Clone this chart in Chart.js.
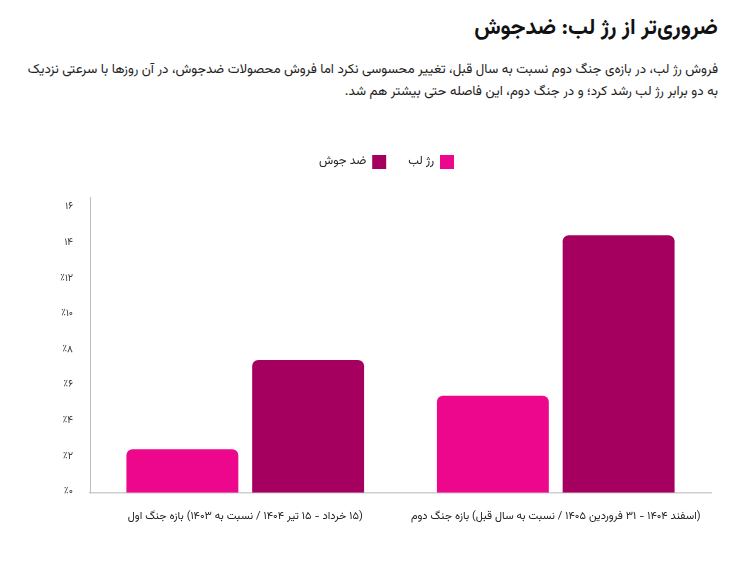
<!DOCTYPE html>
<html lang="fa">
<head>
<meta charset="utf-8">
<script src="https://cdn.jsdelivr.net/npm/chart.js@4.4.1/dist/chart.umd.min.js"></script>
<style>
  html, body { margin: 0; padding: 0; background: #fff; }
  body { width: 741px; height: 567px; position: relative; overflow: hidden;
         font-family: "Vazirmatn", "Noto Sans Arabic", "DejaVu Sans", sans-serif; }
  #title { position: absolute; right: 23px; top: 11px; direction: rtl; text-align: right;
           font-size: 22px; font-weight: bold; color: #111; white-space: nowrap; }
  #sub { position: absolute; right: 23px; left: 10px; top: 59px; direction: rtl; text-align: right;
         font-size: 13.3px; line-height: 22px; color: #222; white-space: nowrap; }
  #wrap { position: absolute; left: 0; top: 133px; width: 741px; height: 410px; direction: rtl; }
</style>
</head>
<body>
<div id="title">ضروری‌تر از رژ لب: ضدجوش</div>
<div id="sub">فروش رژ لب، در بازه‌ی جنگ دوم نسبت به سال قبل، تغییر محسوسی نکرد اما فروش محصولات ضدجوش، در آن روزها با سرعتی نزدیک<br>به دو برابر رژ لب رشد کرد؛ و در جنگ دوم، این فاصله حتی بیشتر هم شد.</div>
<div id="wrap"><canvas id="c"></canvas></div>
<script>
const categories = [
  "(۱۵ خرداد - ۱۵ تیر ۱۴۰۴ / نسبت به ۱۴۰۳) بازه جنگ اول",
  "(اسفند ۱۴۰۴ - ۳۱ فروردین ۱۴۰۵ / نسبت به سال قبل) بازه جنگ دوم"
];
const seriesNames = ["رژ لب", "ضد جوش"];
const lipstick = [2.44, 5.44];
const antiAcne = [7.45, 14.46];
const tickValues = [0, 2, 4, 6, 8, 10, 12, 14, 16];
const tickLabels = ["٪۰", "٪۲", "٪۴", "٪۶", "٪۸", "٪۱۰", "٪۱۲", "۱۴", "۱۶"];

const FONT = '"Vazirmatn", "Noto Sans Arabic", "DejaVu Sans", sans-serif';
const legendGap = {
  id: 'legendGap',
  beforeInit(chart) {
    const orig = chart.legend.fit;
    chart.legend.fit = function () { orig.bind(chart.legend)(); this.height += 18; };
  },
  afterLayout(chart) {
    const lg = chart.legend;
    lg.left += 31; lg.right += 31;
  }
};

new Chart(document.getElementById('c'), {
  type: 'bar',
  data: {
    labels: categories,
    datasets: [
      { label: seriesNames[0], data: lipstick, backgroundColor: '#EC078C', borderRadius: 6, borderSkipped: 'bottom',
        categoryPercentage: 0.81, barPercentage: 0.89 },
      { label: seriesNames[1], data: antiAcne, backgroundColor: '#A5005F', borderRadius: 6, borderSkipped: 'bottom',
        categoryPercentage: 0.81, barPercentage: 0.89 }
    ]
  },
  options: {
    responsive: true,
    maintainAspectRatio: false,
    animation: false,
    layout: { padding: { left: 0, right: 30, top: 0, bottom: 9 } },
    plugins: {
      tooltip: { enabled: false },
      legend: {
        position: 'top', align: 'center', rtl: true, textDirection: 'rtl',
        labels: { boxWidth: 14, boxHeight: 14, padding: 22, color: '#222',
                  font: { family: FONT, size: 12 } }
      }
    },
    scales: {
      x: {
        grid: { display: false },
        border: { display: true, color: '#cfcfcf', width: 1.5 },
        ticks: { color: '#222', padding: 10, maxRotation: 0, font: { family: FONT, size: 11 } }
      },
      y: {
        min: 0, max: 16.6,
        grid: { display: false },
        border: { display: true, color: '#bdbdbd', width: 1 },
        afterFit(s) { s.width = 90; },
        afterBuildTicks(s) { s.ticks = tickValues.map(v => ({ value: v })); },
        ticks: {
          padding: 9, color: '#333', font: { family: FONT, size: 10 },
          callback: (v) => tickLabels[tickValues.indexOf(v)]
        }
      }
    }
  },
  plugins: [legendGap]
});
</script>
</body>
</html>
